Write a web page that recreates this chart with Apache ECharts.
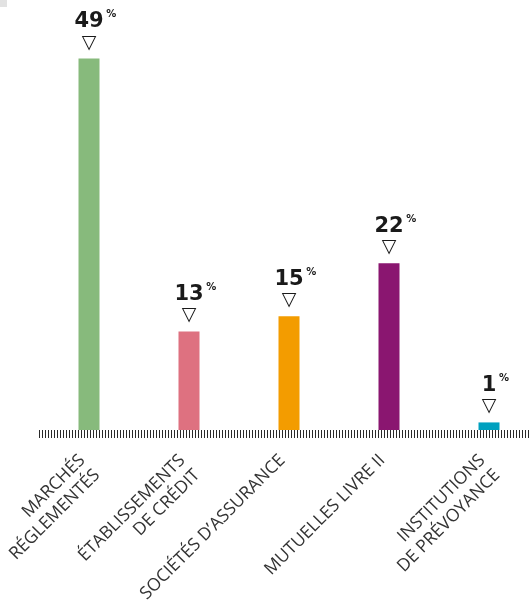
<!DOCTYPE html>
<html>
<head>
<meta charset="utf-8">
<script src="https://cdn.jsdelivr.net/npm/echarts@6/dist/echarts.min.js"></script>
<style>
html,body{margin:0;padding:0;background:#fff;}
#chart{width:531px;height:603px;}
</style>
</head>
<body>
<div id="chart"></div>
<script>
const categories = ["MARCHÉS\nRÉGLEMENTÉS", "ÉTABLISSEMENTS\nDE CRÉDIT", "SOCIÉTÉS D’ASSURANCE", "MUTUELLES LIVRE II", "INSTITUTIONS\nDE PRÉVOYANCE"];
const values = [49, 13, 15, 22, 1];
const colors = ["#87ba7c", "#de7180", "#f39c00", "#8a1670", "#00a0bf"];

const chart = echarts.init(document.getElementById('chart'), null, {renderer: 'canvas'});
chart.setOption({
  animation: false,
  backgroundColor: '#ffffff',
  graphic: [{type: 'rect', left: 0, top: 0, shape: {width: 7, height: 7}, style: {fill: '#e2e2e2'}}],
  grid: {left: 39, width: 500, top: 51, bottom: 173, containLabel: false, outerBoundsMode: 'none'},
  xAxis: [{
    type: 'category',
    data: categories,
    axisLine: {show: false},
    axisTick: {show: false},
    axisLabel: {
      interval: 0,
      rotate: 45,
      margin: 6,
      verticalAlign: 'top',
      padding: [0, 20, 0, 0],
      fontFamily: 'Open Sans',
      fontSize: 17.5,
      lineHeight: 21,
      color: '#333333'
    }
  }, {
    type: 'value',
    position: 'bottom',
    min: 0, max: 500, interval: 3,
    axisLine: {show: false},
    axisLabel: {show: false},
    splitLine: {show: false},
    axisTick: {show: true, length: 8, lineStyle: {color: '#2a2a2a', width: 1}}
  }],
  yAxis: {type: 'value', min: 0, max: 50, show: false},
  series: [{
    type: 'bar',
    xAxisIndex: 0,
    barWidth: 21,
    data: values.map((v, i) => ({value: v, itemStyle: {color: colors[i]}})),
    label: {
      show: true,
      position: 'top',
      distance: 7,
      formatter: p => '{s| }{v|' + p.value + '}{p| %}\n{t|▽}',
      rich: {
        s: {width: 12, fontSize: 10, lineHeight: 24},
        v: {fontFamily: 'DejaVu Sans', fontWeight: 'bold', fontSize: 21, color: '#1a1a1a', lineHeight: 24},
        p: {fontFamily: 'DejaVu Sans', fontWeight: 'bold', fontSize: 10, color: '#1a1a1a', verticalAlign: 'top', lineHeight: 24, padding: [0,0,8,0], width: 12},
        t: {fontFamily: 'DejaVu Sans', fontSize: 19, color: '#1a1a1a', lineHeight: 18}
      }
    }
  }]
});
</script>
</body>
</html>
